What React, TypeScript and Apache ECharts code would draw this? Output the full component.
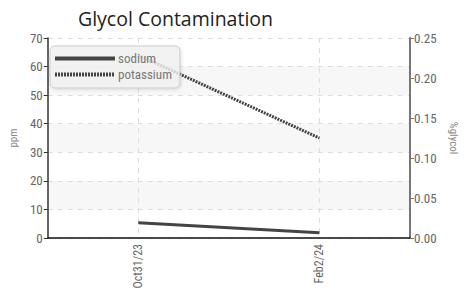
import React, { useEffect, useRef } from "react";
import * as echarts from "echarts";

const categories = ["Oct31/23", "Feb2/24"];
const sodium = [5.3, 1.8];
const potassium = [64, 35];
const leftTicks = { min: 0, max: 70, interval: 10 };
const rightTicks = { min: 0, max: 0.25, interval: 0.05 };

const FONT = "'Liberation Sans Narrow', 'Roboto Condensed', Roboto, sans-serif";

export default function App() {
  const ref = useRef<HTMLDivElement>(null);
  useEffect(() => {
    const chart = echarts.init(ref.current!, null, { renderer: "svg" });
    chart.setOption({
      animation: false,
      title: {
        text: "Glycol Contamination",
        left: 73,
        top: 3,
        textStyle: { fontFamily: "'Open Sans', sans-serif", fontSize: 19.5, fontWeight: "normal", color: "#222" },
      },
      legend: {
        left: 50,
        top: 46,
        orient: "vertical",
        itemWidth: 60,
        itemHeight: 12,
        itemGap: 3,
        padding: [6, 8, 7, 3],
        backgroundColor: "rgba(242,242,242,0.8)",
        borderColor: "#ccc",
        borderWidth: 1,
        borderRadius: 5,
        shadowColor: "rgba(0,0,0,0.15)",
        shadowBlur: 3,
        shadowOffsetX: 1,
        shadowOffsetY: 1,
        itemStyle: { color: "transparent", borderWidth: 0, opacity: 0 },
        lineStyle: { width: 4 },
        textStyle: { fontFamily: FONT, fontSize: 13, color: "#777", padding: [0, 0, 0, -2] },
        data: ["sodium", "potassium"],
      },
      grid: { left: 41, right: 63, top: 38, bottom: 57 },
      xAxis: {
        type: "category",
        data: categories,
        boundaryGap: true,
        axisLine: { lineStyle: { color: "#111", width: 1.5 } },
        axisTick: { alignWithLabel: true, length: 4, lineStyle: { color: "#333" } },
        axisLabel: { rotate: 90, color: "#666", fontFamily: FONT, fontSize: 12, margin: 6 },
        splitLine: { show: true, alignWithLabel: true, lineStyle: { color: "#ddd", type: [5, 5] } },
      },
      yAxis: [
        {
          type: "value",
          ...leftTicks,
          name: "ppm",
          nameLocation: "middle",
          nameRotate: 90,
          nameGap: 22,
          nameTextStyle: { fontFamily: FONT, fontSize: 11, color: "#888" },
          axisLine: { show: true, lineStyle: { color: "#333", width: 1.5 } },
          axisTick: { show: true, length: 4, lineStyle: { color: "#333" } },
          axisLabel: { color: "#666", fontFamily: FONT, fontSize: 13, margin: 5 },
          splitLine: { show: true, lineStyle: { color: "#ddd", type: [5, 5] } },
          splitArea: { show: true, areaStyle: { color: ["rgba(255,255,255,0)", "#f7f7f7"] } },
        },
        {
          type: "value",
          ...rightTicks,
          position: "right",
          name: "%glycol",
          nameLocation: "middle",
          nameRotate: -90,
          nameGap: 28,
          nameTextStyle: { fontFamily: FONT, fontSize: 11, color: "#888" },
          axisLine: { show: true, lineStyle: { color: "#777", width: 2 } },
          axisTick: { show: true, length: 4, lineStyle: { color: "#777" } },
          axisLabel: {
            color: "#666",
            fontFamily: FONT,
            fontSize: 13,
            margin: 4,
            formatter: (v: number) => v.toFixed(2),
          },
          splitLine: { show: false },
        },
      ],
      series: [
        {
          name: "sodium",
          type: "line",
          yAxisIndex: 0,
          data: sodium,
          symbol: "none",
          color: "#444",
          lineStyle: { color: "#444", width: 3 },
        },
        {
          name: "potassium",
          type: "line",
          yAxisIndex: 0,
          data: potassium,
          symbol: "none",
          color: "#444",
          lineStyle: { color: "#444", width: 3, type: [2, 1] },
        },
      ],
    });
    return () => chart.dispose();
  }, []);
  return <div ref={ref} style={{ width: 473, height: 295, position: "absolute", left: 0, top: 0 }} />;
}
